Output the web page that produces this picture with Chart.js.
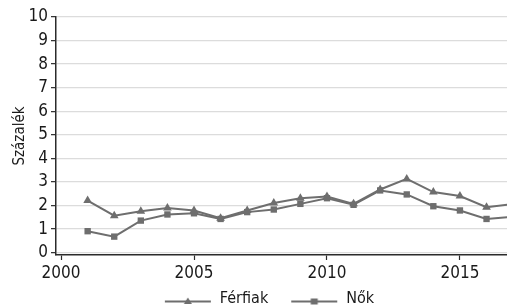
<!DOCTYPE html>
<html>
<head>
<meta charset="utf-8">
<script src="https://cdn.jsdelivr.net/npm/chart.js@4.4.1/dist/chart.umd.min.js"></script>
<style>
  html, body { margin: 0; padding: 0; background: #fff; }
  #wrap { width: 507px; height: 305px; }
</style>
</head>
<body>
<div id="wrap"><canvas id="chart"></canvas></div>
<script>
// adatok (leolvasva az ábráról)
const years = [2001, 2002, 2003, 2004, 2005, 2006, 2007, 2008, 2009, 2010, 2011, 2012, 2013, 2014, 2015, 2016, 2017];
const ferfiak = [2.21, 1.57, 1.76, 1.89, 1.79, 1.46, 1.79, 2.11, 2.31, 2.38, 2.07, 2.68, 3.13, 2.57, 2.40, 1.93, 2.06];
const nok = [0.91, 0.68, 1.36, 1.62, 1.67, 1.43, 1.72, 1.83, 2.07, 2.31, 2.03, 2.64, 2.47, 1.97, 1.79, 1.43, 1.52];
const xTicks = [2000, 2005, 2010, 2015];
const yTicks = [0, 1, 2, 3, 4, 5, 6, 7, 8, 9, 10];
const seriesNames = ['Férfiak', 'Nők'];

const lineColor = '#6e6e6e';
const axisColor = '#2b2b2b';
const fontFamily = "'Liberation Sans Narrow', 'DejaVu Sans Condensed', 'Liberation Sans', sans-serif";

// legenda ikon: (üres hely) + vonal + jelölő, a vonal kicsit a szöveg közepe alatt
function legendIcon(style) {
  const c = document.createElement('canvas');
  c.width = 66; c.height = 16;
  const ctx = c.getContext('2d');
  const ly = 10.5;
  ctx.strokeStyle = lineColor;
  ctx.fillStyle = lineColor;
  ctx.lineWidth = 2;
  ctx.beginPath();
  ctx.moveTo(19, ly); ctx.lineTo(65, ly);
  ctx.stroke();
  ctx.beginPath();
  if (style === 'triangle') {
    ctx.moveTo(42, ly - 4); ctx.lineTo(46, ly + 2.5); ctx.lineTo(38, ly + 2.5);
  } else {
    ctx.rect(38.5, ly - 3, 7, 6);
  }
  ctx.closePath();
  ctx.fill();
  return c;
}
const icons = [legendIcon('triangle'), legendIcon('rect')];

const toPoints = vals => years.map((yr, i) => ({x: yr, y: vals[i]}));

// a jelmagyarázat kicsit jobbra és lejjebb, az x tengely feliratai ne legyenek levágva
const legendNudge = {
  id: 'legendNudge',
  beforeDraw(chart) {
    const lg = chart.legend;
    if (!lg || lg._nudged) return;
    lg._nudged = true;
    lg.left += 6.5;
    lg.right += 6.5;
    lg.top = 287;
    chart.scales.x.bottom = 286;
  }
};

new Chart(document.getElementById('chart'), {
  type: 'line',
  data: {
    datasets: [
      {
        label: seriesNames[0],
        data: toPoints(ferfiak),
        borderColor: lineColor,
        backgroundColor: lineColor,
        borderWidth: 2,
        pointStyle: 'triangle',
        pointRadius: 5,
        pointBorderWidth: 0,
        tension: 0
      },
      {
        label: seriesNames[1],
        data: toPoints(nok),
        borderColor: lineColor,
        backgroundColor: lineColor,
        borderWidth: 2,
        pointStyle: 'rect',
        pointRadius: 4.5,
        pointBorderWidth: 0,
        tension: 0
      }
    ]
  },
  options: {
    responsive: true,
    maintainAspectRatio: false,
    animation: false,
    layout: { autoPadding: false, padding: { top: 17, right: 0, left: 0, bottom: 0 } },
    scales: {
      x: {
        type: 'linear',
        min: 1999.81,
        max: 2016.77,
        afterBuildTicks: s => { s.ticks = xTicks.map(v => ({value: v})); },
        afterFit: s => { s.height = 20; },
        grid: { drawOnChartArea: false, drawTicks: true, tickLength: 5, tickColor: axisColor, tickWidth: 1.2 },
        border: { color: axisColor, width: 1.5 },
        ticks: { color: '#1a1a1a', font: { family: fontFamily, size: 17 }, padding: 3, maxRotation: 0, autoSkip: false,
                 callback: v => String(v) }
      },
      y: {
        min: -0.1,
        max: 10,
        afterBuildTicks: s => { s.ticks = yTicks.map(v => ({value: v})); },
        afterFit: s => { s.width = 56; },
        grid: { color: '#dcdcdc', lineWidth: 1.3, drawTicks: true, tickLength: 5, tickColor: axisColor, tickWidth: 1.2 },
        border: { color: axisColor, width: 1.5 },
        ticks: { color: '#1a1a1a', font: { family: fontFamily, size: 17 }, padding: 3, autoSkip: false },
        title: { display: true, text: 'Százalék', color: '#1a1a1a', font: { family: fontFamily, size: 15 }, padding: { top: 11, bottom: 0 } }
      }
    },
    plugins: {
      tooltip: { enabled: false },
      legend: {
        position: 'bottom',
        labels: {
          usePointStyle: true,
          pointStyleWidth: 66,
          padding: 4,
          color: '#1a1a1a',
          font: { family: fontFamily, size: 16 },
          generateLabels: chart => {
            const items = Chart.defaults.plugins.legend.labels.generateLabels(chart);
            items.forEach((it, i) => { it.pointStyle = icons[i]; });
            return items;
          }
        }
      }
    }
  },
  plugins: [legendNudge]
});
</script>
</body>
</html>
